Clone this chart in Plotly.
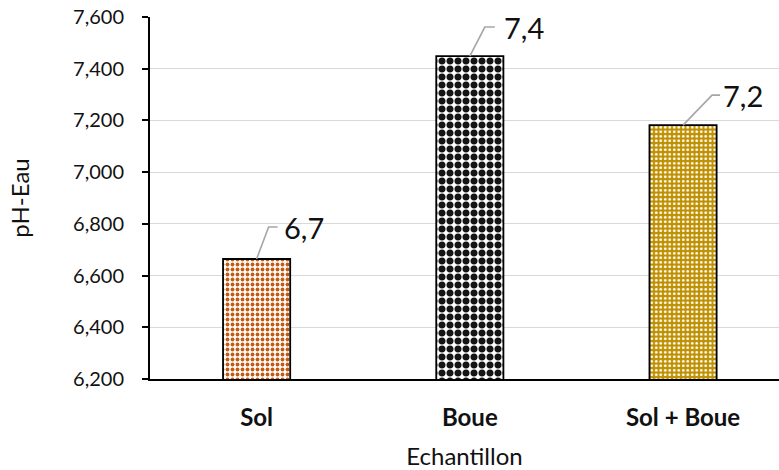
import plotly.graph_objects as go

# Sample categories and measured pH (water)
categories = ["Sol", "Boue", "Sol + Boue"]
ph_values = [6.664, 7.449, 7.182]

# Y axis range and tick values
y_min, y_max, y_step = 6.2, 7.6, 0.2
y_ticks = [round(y_min + i * y_step, 1) for i in range(8)]

# Fill pattern per bar (Excel-like textures)
fills = [
    dict(bg="white", fg="#C55A11", shape=".", size=5, solidity=0.45),
    dict(bg="white", fg="#141414", shape=".", size=8, solidity=0.6),
    dict(bg="#BF9000", fg="white", shape=".", size=4.5, solidity=0.3),
]

# Leader-line geometry for the value labels (pixels from the bar top)
leaders = [
    dict(bend=(12, 32), end=(21, 32), text_dx=25),
    dict(bend=(15, 29), end=(25, 29), text_dx=32),
    dict(bend=(29, 30), end=(37, 30), text_dx=38),
]

FONT = "Lato"
xs = list(range(len(categories)))

fig = go.Figure()
for i, (v, f) in enumerate(zip(ph_values, fills)):
    fig.add_trace(go.Bar(
        x=[xs[i]],
        y=[v],
        width=0.315,
        marker=dict(
            color=f["bg"],
            line=dict(color="black", width=1.8),
            pattern=dict(
                shape=f["shape"],
                fgcolor=f["fg"],
                bgcolor=f["bg"],
                size=f["size"],
                solidity=f["solidity"],
                fillmode="replace",
            ),
        ),
        hoverinfo="skip",
    ))

shapes = []
annotations = []
for i, (v, ld) in enumerate(zip(ph_values, leaders)):
    bx, by = ld["bend"]
    ex, ey = ld["end"]
    shapes.append(dict(
        type="path",
        xref="x", yref="y",
        xsizemode="pixel", ysizemode="pixel",
        xanchor=xs[i], yanchor=v,
        path=f"M 0,0 L {bx},{by} L {ex},{ey}",
        line=dict(color="#A6A6A6", width=1.6),
    ))
    annotations.append(dict(
        x=xs[i], y=v, xref="x", yref="y",
        text=f"{v:.1f}".replace(".", ","),
        showarrow=False,
        xanchor="left", yanchor="middle",
        xshift=ld["text_dx"], yshift=ey,
        font=dict(family=FONT, size=29, color="#111111"),
    ))

fig.update_layout(
    width=779, height=470,
    margin=dict(l=150, r=0, t=17, b=91),
    paper_bgcolor="white",
    plot_bgcolor="white",
    separators=", ",
    showlegend=False,
    barmode="overlay",
    shapes=shapes,
    annotations=annotations,
    font=dict(family=FONT, color="#111111"),
)

fig.update_xaxes(
    tickmode="array",
    tickvals=xs,
    ticktext=categories,
    range=[-0.5, 2.45],
    showgrid=False,
    showline=True, linecolor="black", linewidth=2,
    ticks="",
    ticklabelstandoff=16,
    tickfont=dict(family=FONT, size=24, color="#111111", weight="bold"),
    title=dict(text="Echantillon", font=dict(family=FONT, size=24, color="#111111"), standoff=18),
)

fig.update_yaxes(
    range=[y_min, y_max],
    tickmode="array",
    tickvals=y_ticks,
    tickformat=".3f",
    showgrid=True, gridcolor="#D9D9D9", gridwidth=1,
    showline=True, linecolor="black", linewidth=2,
    ticks="outside", ticklen=6, tickwidth=2, tickcolor="black",
    ticklabelstandoff=14,
    tickfont=dict(family=FONT, size=20, color="#111111"),
    title=dict(text="pH-Eau", font=dict(family=FONT, size=24, color="#111111"), standoff=37),
    zeroline=False,
)

fig.write_html("out.html")
